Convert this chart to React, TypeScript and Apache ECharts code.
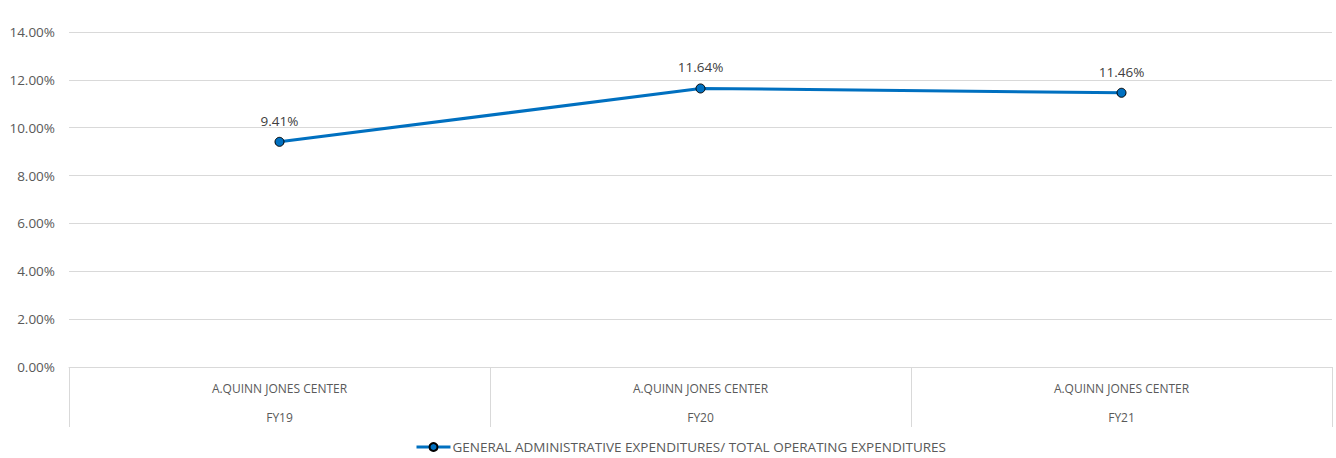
import React, { useEffect, useRef } from "react";
import * as echarts from "echarts";

const centers = ["A.QUINN JONES CENTER", "A.QUINN JONES CENTER", "A.QUINN JONES CENTER"];
const years = ["FY19", "FY20", "FY21"];
const ratios = [9.41, 11.64, 11.46];
const seriesName = "GENERAL ADMINISTRATIVE EXPENDITURES/ TOTAL OPERATING EXPENDITURES";
const yTicks = { min: 0, max: 14, interval: 2 };

const FONT = "'Open Sans', 'Liberation Sans', sans-serif";

export default function App() {
  const ref = useRef<HTMLDivElement>(null);
  useEffect(() => {
    if (!ref.current) return;
    const chart = echarts.init(ref.current, undefined, { renderer: "svg" });
    const categories = centers.map((c, i) => c + "\n" + years[i]);
    chart.setOption({
      animation: false,
      textStyle: { fontFamily: FONT },
      grid: { left: 69, right: 4, top: 32, bottom: 91, containLabel: false },
      xAxis: {
        type: "category",
        data: categories,
        boundaryGap: true,
        axisLine: { show: true, lineStyle: { color: "#d9d9d9", width: 1 } },
        axisTick: { show: true, interval: 0, length: 60, lineStyle: { color: "#d9d9d9", width: 1 } },
        axisLabel: {
          interval: 0,
          color: "#595959",
          fontSize: 12,
          fontFamily: FONT,
          lineHeight: 29,
          margin: 7,
        },
      },
      yAxis: {
        type: "value",
        min: yTicks.min,
        max: yTicks.max,
        interval: yTicks.interval,
        axisLine: { show: false },
        axisTick: { show: false },
        splitLine: { lineStyle: { color: "#d9d9d9", width: 1 } },
        axisLabel: {
          color: "#595959",
          fontSize: 13.5,
          fontFamily: FONT,
          margin: 14,
          formatter: (v: number) => v.toFixed(2) + "%",
        },
      },
      legend: {
        bottom: -1,
        left: 410,
        itemWidth: 34,
        itemHeight: 10,
        itemGap: 10,
        textStyle: { color: "#595959", fontSize: 13.5, fontFamily: FONT, padding: [0, 0, 0, -3] },
        lineStyle: { width: 3 },
        data: [seriesName],
      },
      series: [
        {
          name: seriesName,
          type: "line",
          data: ratios,
          symbol: "circle",
          symbolSize: 9,
          lineStyle: { color: "#0070c0", width: 3 },
          itemStyle: { color: "#0070c0", borderColor: "#000000", borderWidth: 1 },
          label: {
            show: true,
            position: "top",
            distance: 9,
            color: "#404040",
            fontSize: 13.5,
            fontFamily: FONT,
            formatter: (p: any) => p.value.toFixed(2) + "%",
          },
        },
      ],
    });
    return () => chart.dispose();
  }, []);
  return <div ref={ref} style={{ width: 1336, height: 458, position: "absolute", left: 0, top: 0 }} />;
}
